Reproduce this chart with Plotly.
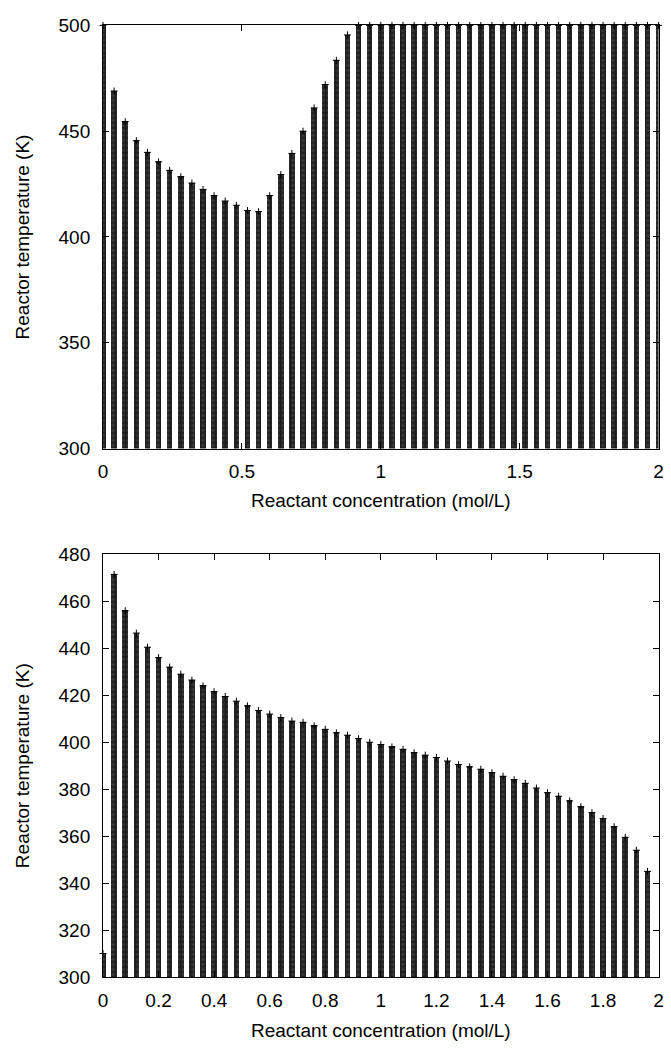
import plotly.graph_objects as go

# Upper panel: steady-state reactor temperature vs. reactant concentration
conc_top = [0.00, 0.04, 0.08, 0.12, 0.16, 0.20, 0.24, 0.28, 0.32, 0.36,
            0.40, 0.44, 0.48, 0.52, 0.56, 0.60, 0.64, 0.68, 0.72, 0.76,
            0.80, 0.84, 0.88, 0.92, 0.96, 1.00, 1.04, 1.08, 1.12, 1.16,
            1.20, 1.24, 1.28, 1.32, 1.36, 1.40, 1.44, 1.48, 1.52, 1.56,
            1.60, 1.64, 1.68, 1.72, 1.76, 1.80, 1.84, 1.88, 1.92, 1.96,
            2.00]
temp_top = [500, 469, 454.5, 445.5, 440, 435.5, 431.5, 428.5, 425.5, 422.5,
            419.5, 417, 415, 412.5, 412, 419.5, 429.5, 439.5, 450, 461,
            472, 483.5, 495.5, 500, 500, 500, 500, 500, 500, 500,
            500, 500, 500, 500, 500, 500, 500, 500, 500, 500,
            500, 500, 500, 500, 500, 500, 500, 500, 500, 500,
            500]

# Lower panel
conc_bottom = [0.00, 0.04, 0.08, 0.12, 0.16, 0.20, 0.24, 0.28, 0.32, 0.36,
               0.40, 0.44, 0.48, 0.52, 0.56, 0.60, 0.64, 0.68, 0.72, 0.76,
               0.80, 0.84, 0.88, 0.92, 0.96, 1.00, 1.04, 1.08, 1.12, 1.16,
               1.20, 1.24, 1.28, 1.32, 1.36, 1.40, 1.44, 1.48, 1.52, 1.56,
               1.60, 1.64, 1.68, 1.72, 1.76, 1.80, 1.84, 1.88, 1.92, 1.96]
temp_bottom = [310, 471.5, 456, 446.5, 440.5, 436, 432, 429, 426.5, 424,
               421.5, 419.5, 417.5, 415.5, 413.5, 412, 410.5, 409, 408.5, 407,
               405.5, 404, 403, 401.5, 400, 399, 398, 397, 395.5, 394.5,
               393.5, 392, 390.5, 389.5, 388.5, 387, 385.5, 384, 382.5, 380.5,
               378.5, 377, 375, 372.5, 370, 367.5, 364, 359.5, 354, 345]

x_title = "Reactant concentration (mol/L)"
y_title = "Reactor temperature (K)"
FONT = "Liberation Sans, Arial, Helvetica, sans-serif"

fig = go.Figure()


def add_impulses(x, y, xa, ya):
    # dense impulse columns, each capped by a small "+" point
    fig.add_trace(go.Bar(
        x=x, y=y, width=0.02, xaxis=xa, yaxis=ya,
        marker=dict(color="#1e1e1e", line_width=0,
                    pattern=dict(shape="+", fgcolor="#000000", bgcolor="#3a3a3a",
                                 size=5, solidity=0.6)),
        hoverinfo="x+y", showlegend=False))
    fig.add_trace(go.Scatter(
        x=x, y=y, mode="markers", xaxis=xa, yaxis=ya, cliponaxis=False,
        marker=dict(symbol="cross-thin", size=5,
                    line=dict(width=1, color="#000000")),
        hoverinfo="skip", showlegend=False))


add_impulses(conc_top, temp_top, "x", "y")
add_impulses(conc_bottom, temp_bottom, "x2", "y2")

axis_style = dict(
    showline=True, linecolor="#000000", linewidth=1, mirror="ticks",
    ticks="inside", ticklen=6, tickwidth=1, tickcolor="#000000",
    showgrid=False, zeroline=False,
    tickfont=dict(family=FONT, size=19, color="#000000"),
    title_font=dict(family=FONT, size=19, color="#000000"),
)
XDOM = [99.5 / 671, 663.5 / 671]

fig.update_layout(
    width=671, height=1056,
    margin=dict(l=0, r=0, t=0, b=0),
    paper_bgcolor="white", plot_bgcolor="white",
    bargap=0, barmode="overlay",
    xaxis=dict(domain=XDOM, range=[0, 2], tick0=0, dtick=0.5, anchor="y",
               ticklabelstandoff=6,
               title=dict(text=x_title, standoff=12), **axis_style),
    yaxis=dict(domain=[(1056 - 447.5) / 1056, (1056 - 15.7) / 1056],
               range=[300, 500], tick0=300, dtick=50, anchor="x",
               ticklabelstandoff=8,
               title=dict(text=y_title, standoff=23), **axis_style),
    xaxis2=dict(domain=XDOM, range=[0, 2], tick0=0, dtick=0.2, anchor="y2",
                ticklabelstandoff=6,
                title=dict(text=x_title, standoff=13), **axis_style),
    yaxis2=dict(domain=[(1056 - 986.6) / 1056, (1056 - 555.5) / 1056],
                range=[300, 480], tick0=300, dtick=20, anchor="x2",
                ticklabelstandoff=8,
                title=dict(text=y_title, standoff=23), **axis_style),
)

fig.write_html("out.html")
